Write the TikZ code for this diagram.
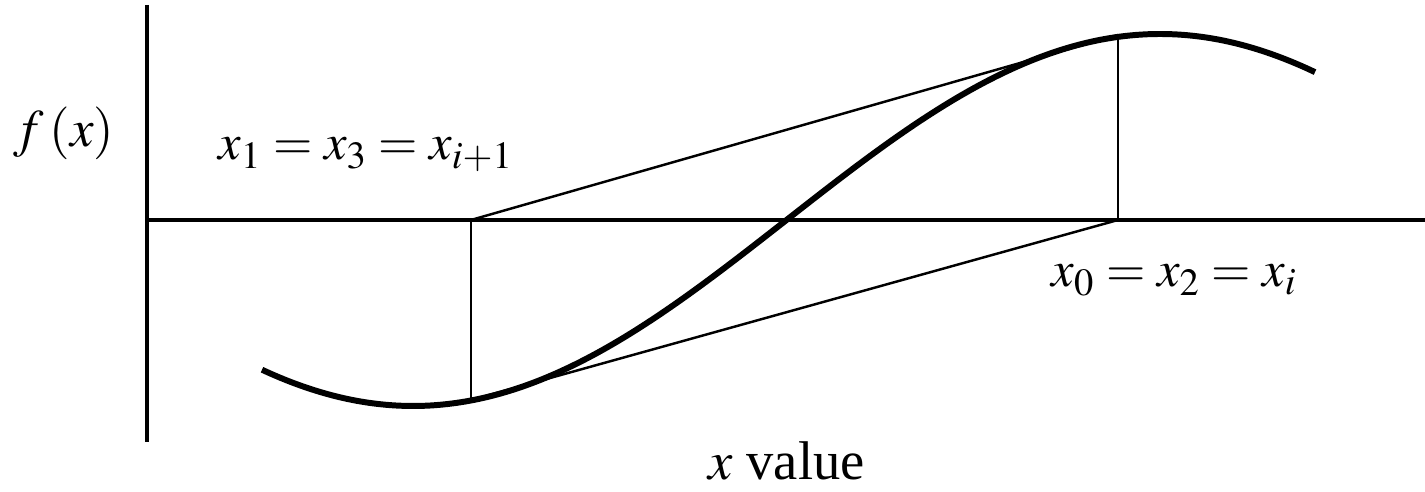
\documentclass[tikz,border=0pt]{standalone}
\usepackage{mathptmx}
\usepackage{fontspec}
\setmainfont{Liberation Serif}
\usepackage{tikz}
\usetikzlibrary{positioning}

\begin{document}
\begin{tikzpicture}[
    x=0.01cm, y=-0.01cm,
    every node/.style={font=\fontsize{14.4}{17}\selectfont, inner sep=0pt},
    axis/.style={line width=0.9pt},
    guide/.style={line width=0.7pt},
    fcurve/.style={line width=1.7pt, line cap=butt}
]
    \useasboundingbox (0,0) rectangle (1425,492);

    % axes
    \coordinate (O) at (147,220);
    \coordinate (Otop) at (147,5);
    \coordinate (Obot) at (147,442);
    \coordinate (Xend) at (1425,220);
    \draw[axis] (Otop) -- (Obot);
    \draw[axis] (O) -- (Xend);

    % the function
    \draw[fcurve] plot[domain=262:1315, samples=120, smooth] (\x, {220+186*cos((\x-413)/747*180)});

    % iterates on the axis and on the curve
    \coordinate (A) at (471,220);
    \coordinate (Af) at (471,400);
    \coordinate (B) at (1118,220);
    \coordinate (Bf) at (1118,35);
    \draw[guide] (A) -- (Af);
    \draw[guide] (B) -- (Bf);
    \draw[guide] (A) -- (Bf);
    \draw[guide] (Af) -- (B);

    % labels
    \node[anchor=base west, font=\fontsize{15}{18}\selectfont] (fx) at (13,147) {$f\,(x)$};
    \node[anchor=base west] (lab1) at (218,160) {$x_1 = x_3 = x_{i+1}$};
    \node[anchor=base west] (lab0) at (1051,287) {$x_0 = x_2 = x_i$};
    \node[anchor=base west, font=\fontsize{15.5}{18}\selectfont] (xval) at (708,480) {$x$ value};
\end{tikzpicture}
\end{document}
